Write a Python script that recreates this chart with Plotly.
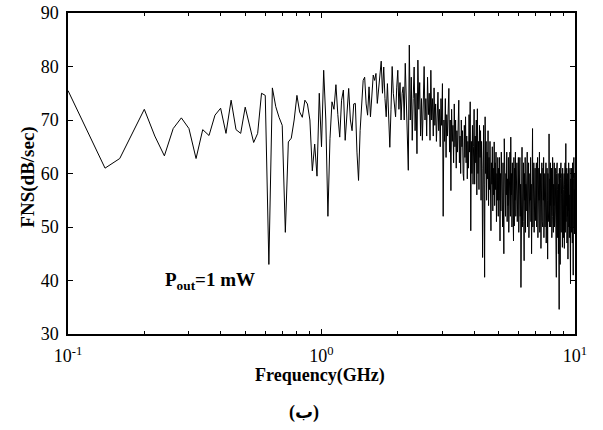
import plotly.graph_objects as go

# Frequency grid: uniform sampling 0.1 .. 10 GHz with 0.02 GHz step
F_START = 0.1
F_STEP = 0.02

fns_db = [
    # 0.10 - 0.48
    75.5, 67.5, 61.0, 62.8, 67.5, 72.0, 67.0, 63.3, 68.4, 70.4,
    68.4, 62.8, 68.2, 67.1, 70.9, 72.2, 67.5, 73.7, 68.2, 67.5,
    # 0.50 - 0.88
    72.4, 69.0, 65.8, 67.5, 75.0, 74.6, 43.0, 76.0, 72.5, 70.5,
    69.0, 49.0, 65.9, 66.6, 70.0, 74.6, 71.5, 70.5, 73.7, 73.0,
    # 0.90 - 1.28
    70.0, 60.5, 65.5, 59.5, 75.0, 65.0, 79.3, 70.0, 52.0, 66.5,
    73.4, 72.0, 76.6, 71.0, 66.8, 73.7, 75.6, 66.2, 70.6, 75.9,
    # 1.30 - 1.68
    70.0, 68.0, 73.0, 73.1, 64.0, 58.7, 68.0, 74.0, 77.4, 78.0,
    73.0, 70.9, 76.2, 70.6, 74.0, 78.4, 77.4, 78.7, 73.1, 76.0,
    # 1.70 - 2.08
    79.0, 81.0, 75.0, 79.9, 74.0, 70.6, 76.8, 69.0, 64.9, 72.0,
    80.0, 75.0, 72.4, 70.6, 76.0, 79.3, 72.0, 77.0, 70.0, 75.0,
    # 2.10 - 2.48
    76.2, 70.0, 80.6, 72.0, 66.0, 60.6, 84.0, 70.0, 78.0, 66.2,
    74.0, 79.9, 68.0, 75.0, 63.7, 81.2, 72.0, 77.0, 67.0, 74.0,
    # 2.50 - 2.88
    66.2, 76.0, 80.0, 70.0, 74.0, 67.0, 78.0, 71.0, 75.0, 66.2,
    79.3, 70.0, 74.0, 67.0, 76.0, 69.0, 73.0, 66.0, 71.0, 75.2,
    # 2.90 - 3.28
    68.0, 72.0, 65.0, 74.0, 69.0, 76.8, 52.0, 70.0, 66.0, 74.0,
    63.0, 71.0, 67.0, 73.0, 75.9, 64.0, 70.0, 56.8, 72.0, 66.0,
    # 3.30 - 3.68
    69.0, 62.0, 73.0, 65.0, 70.0, 61.0, 68.0, 64.0, 71.0, 73.7,
    62.0, 67.0, 60.0, 70.0, 65.0, 68.0, 60.0, 58.7, 69.0, 63.0,
    # 3.70 - 4.08
    70.6, 62.0, 67.0, 59.0, 66.0, 61.0, 71.0, 64.0, 73.4, 49.3,
    66.0, 60.0, 69.0, 58.0, 65.0, 72.0, 58.0, 67.0, 62.0, 70.0,
    # 4.10 - 4.48
    56.0, 72.1, 60.0, 66.0, 57.0, 69.0, 63.0, 68.0, 55.0, 66.0,
    61.0, 44.3, 64.0, 69.0, 58.0, 40.6, 70.6, 60.0, 66.0, 55.0,
    # 4.50 - 4.88
    64.0, 59.0, 68.0, 54.0, 63.0, 57.0, 66.0, 52.0, 49.3, 62.0,
    58.0, 65.0, 53.0, 61.0, 56.0, 65.9, 54.0, 62.0, 57.0, 64.0,
    # 4.90 - 5.28
    51.0, 60.0, 55.0, 63.0, 52.0, 61.0, 55.0, 63.0, 47.4, 60.0,
    53.0, 64.0, 56.0, 61.0, 50.0, 62.0, 57.0, 45.0, 66.5, 55.0,
    # 5.30 - 5.68
    62.0, 52.0, 60.0, 56.0, 64.0, 51.0, 59.0, 54.0, 63.0, 49.0,
    61.0, 55.0, 64.0, 52.0, 66.8, 56.0, 60.0, 50.0, 62.0, 54.0,
    # 5.70 - 6.08
    59.0, 47.4, 63.0, 50.2, 61.0, 55.0, 64.0, 52.0, 60.0, 56.0,
    62.0, 51.0, 58.0, 54.0, 63.0, 49.0, 60.0, 55.0, 63.0, 52.0,
    # 6.10 - 6.48
    58.0, 38.7, 61.0, 54.0, 64.9, 50.0, 59.0, 56.0, 62.0, 51.0,
    43.7, 60.0, 55.0, 63.0, 49.0, 58.0, 53.0, 61.0, 56.0, 64.0,
    # 6.50 - 6.88
    50.0, 59.0, 54.0, 62.0, 48.0, 57.0, 52.0, 60.0, 55.0, 63.0,
    51.0, 58.0, 45.0, 61.0, 54.0, 68.4, 50.0, 59.0, 55.0, 62.0,
    # 6.90 - 7.28
    49.0, 57.0, 53.0, 61.0, 51.2, 58.0, 53.0, 62.0, 50.0, 57.0,
    54.0, 63.0, 48.0, 58.0, 52.0, 61.0, 55.0, 64.0, 49.0, 57.0,
    # 7.30 - 7.68
    53.0, 60.0, 46.0, 59.0, 54.0, 62.0, 51.0, 56.0, 50.0, 61.0,
    55.0, 63.0, 48.0, 58.0, 53.0, 60.0, 50.0, 57.0, 54.0, 62.0,
    # 7.70 - 8.08
    47.0, 59.0, 52.0, 61.0, 55.0, 44.0, 60.0, 53.0, 63.0, 51.0,
    67.4, 56.0, 50.0, 59.0, 54.0, 62.0, 50.0, 58.0, 53.0, 61.0,
    # 8.10 - 8.48
    48.0, 57.0, 52.0, 63.0, 55.0, 60.0, 49.0, 58.0, 54.0, 62.0,
    50.0, 57.0, 53.0, 61.0, 47.0, 59.0, 52.0, 40.6, 60.0, 54.0,
    # 8.50 - 8.88
    62.0, 48.0, 57.0, 51.0, 60.0, 45.0, 58.0, 53.0, 34.6, 61.0,
    50.0, 57.0, 43.0, 59.0, 52.0, 62.0, 49.0, 56.0, 47.0, 60.0,
    # 8.90 - 9.28
    53.0, 46.2, 61.0, 51.0, 58.0, 48.0, 57.0, 52.0, 60.0, 46.0,
    58.0, 53.0, 62.0, 49.0, 56.0, 65.6, 51.0, 59.0, 54.0, 61.0,
    # 9.30 - 9.68
    47.0, 57.0, 52.0, 60.0, 44.0, 58.0, 53.0, 62.0, 50.0, 56.0,
    48.0, 60.0, 54.0, 61.0, 46.0, 39.4, 59.0, 52.0, 57.0, 49.0,
    # 9.70 - 10.00
    61.0, 54.0, 58.0, 47.0, 62.0, 51.0, 56.0, 41.0, 59.0, 53.0,
    63.0, 50.0, 57.0, 48.7, 60.0, 49.0,
]

freq_ghz = [round(F_START + F_STEP * i, 2) for i in range(len(fns_db))]

x_tick_vals = [0.1, 1, 10]
x_tick_text = ["10<sup>-1</sup>", "10<sup>0</sup>", "10<sup>1</sup>"]
x_minor_vals = [0.2, 0.3, 0.4, 0.5, 0.6, 0.7, 0.8, 0.9,
                2, 3, 4, 5, 6, 7, 8, 9]
y_tick_vals = [30, 40, 50, 60, 70, 80, 90]

SERIF = "Liberation Serif, Times New Roman, serif"

fig = go.Figure()
fig.add_trace(go.Scatter(
    x=freq_ghz, y=fns_db, mode="lines",
    line=dict(color="black", width=1.0),
    showlegend=False,
))

fig.update_layout(
    width=603, height=430,
    margin=dict(l=68, r=28, t=13, b=96),
    paper_bgcolor="white", plot_bgcolor="white",
    font=dict(family=SERIF, color="black", size=15),
)

fig.update_xaxes(
    type="log", range=[-1, 1], automargin=False,
    tickmode="array", tickvals=x_tick_vals, ticktext=x_tick_text,
    ticks="inside", ticklen=5, tickcolor="black", tickwidth=1,
    minor=dict(tickmode="array", tickvals=x_minor_vals, ticks="inside",
               ticklen=3, tickcolor="black", tickwidth=1, showgrid=False),
    showline=True, linecolor="black", linewidth=1.5, mirror="ticks",
    showgrid=False, zeroline=False,
    ticklabelstandoff=5,
    tickfont=dict(family=SERIF, size=18, color="black"),
)

fig.update_yaxes(
    range=[30, 90], automargin=False,
    tickmode="array", tickvals=y_tick_vals,
    ticks="inside", ticklen=5, tickcolor="black", tickwidth=1,
    showline=True, linecolor="black", linewidth=1.5, mirror="ticks",
    showgrid=False, zeroline=False,
    ticklabelstandoff=4,
    tickfont=dict(family=SERIF, size=18, color="black"),
)

# axis titles
fig.add_annotation(
    x=0.497, y=-0.128, xref="paper", yref="paper",
    text="<b>Frequency(GHz)</b>", showarrow=False,
    font=dict(family=SERIF, size=18, color="black"),
    xanchor="center", yanchor="middle",
)
fig.add_annotation(
    x=-0.079, y=0.49, xref="paper", yref="paper",
    text="<b>FNS(dB/sec)</b>", showarrow=False, textangle=-90,
    font=dict(family=SERIF, size=19, color="black"),
    xanchor="center", yanchor="middle",
)

fig.add_annotation(
    x=-0.44, y=40, xref="x", yref="y",
    text="<b>P<sub>out</sub>=1 mW</b>", showarrow=False,
    font=dict(family=SERIF, size=19, color="black"),
    xanchor="center", yanchor="middle",
)

fig.add_annotation(
    x=0.465, y=-0.244, xref="paper", yref="paper",
    text="<b>(ب)</b>", showarrow=False,
    font=dict(family="Liberation Serif, DejaVu Sans, serif", size=18, color="black"),
    xanchor="center", yanchor="middle",
)

fig.write_html("out.html", config={"displayModeBar": False},
               post_script="document.body.style.margin='0px';")
